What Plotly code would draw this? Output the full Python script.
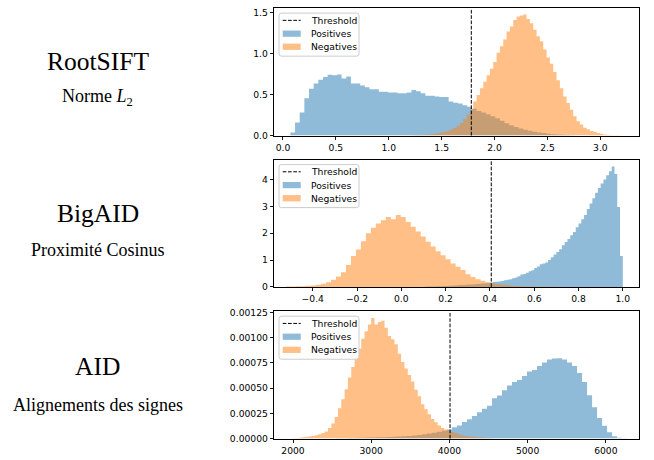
import plotly.graph_objects as go

W, H = 654, 460

# ---------------- data (bin start, bin width, density per bin) ----------------
# Panel 1 : RootSIFT, L2 norm
P1_POS_START, P1_POS_WIDTH = 0.07, 0.044
P1_POS = [0.036, 0.16, 0.28, 0.455, 0.57, 0.635, 0.68, 0.715, 0.74, 0.735, 0.745, 0.695,
          0.72, 0.635, 0.635, 0.61, 0.587, 0.563, 0.563, 0.535, 0.535, 0.523, 0.523, 0.515,
          0.515, 0.523, 0.555, 0.54, 0.515, 0.485, 0.485, 0.475, 0.47, 0.47, 0.415, 0.40,
          0.39, 0.37, 0.35, 0.325, 0.30, 0.28, 0.26, 0.235, 0.21, 0.18, 0.15, 0.125, 0.105,
          0.085, 0.07, 0.058, 0.047, 0.037, 0.03, 0.022, 0.016, 0.012, 0.008, 0.005, 0.003]
P1_NEG_START, P1_NEG_WIDTH = 1.2, 0.0315
P1_NEG = [0.003, 0.004, 0.005, 0.007, 0.009, 0.012, 0.016, 0.021, 0.027, 0.036, 0.046,
          0.058, 0.072, 0.092, 0.118, 0.155, 0.2, 0.255, 0.315, 0.415, 0.495, 0.575, 0.655,
          0.735, 0.815, 0.895, 1.01, 1.09, 1.17, 1.27, 1.33, 1.41, 1.45, 1.465, 1.475, 1.42,
          1.37, 1.29, 1.21, 1.15, 1.05, 0.95, 0.875, 0.775, 0.675, 0.575, 0.475, 0.395,
          0.315, 0.235, 0.175, 0.135, 0.095, 0.075, 0.055, 0.045, 0.03, 0.02, 0.012, 0.008,
          0.005, 0.003, 0.002]

# Panel 2 : BigAID, cosine proximity
P2_POS_START, P2_POS_WIDTH = 0.1, 0.0125
P2_POS = [0.01, 0.012, 0.014, 0.018, 0.02, 0.024, 0.028, 0.032, 0.036, 0.042, 0.048, 0.055,
          0.062, 0.068, 0.074, 0.082, 0.088, 0.095, 0.10, 0.107, 0.115, 0.125, 0.135, 0.15,
          0.165, 0.18, 0.19, 0.205, 0.225, 0.25, 0.27, 0.29, 0.32, 0.355, 0.40, 0.46, 0.48,
          0.53, 0.58, 0.62, 0.70, 0.76, 0.84, 0.87, 0.91, 1.0, 1.1, 1.21, 1.3, 1.4, 1.55,
          1.67, 1.78, 1.92, 2.04, 2.22, 2.36, 2.52, 2.68, 2.9, 3.1, 3.3, 3.5, 3.68, 3.85,
          4.0, 4.15, 4.3, 4.48, 4.2, 2.97, 1.15]
P2_NEG_START, P2_NEG_WIDTH = -0.52, 0.0225
P2_NEG = [0.015, 0.02, 0.025, 0.03, 0.04, 0.055, 0.085, 0.12, 0.17, 0.27, 0.39, 0.55, 0.82,
          1.15, 1.39, 1.70, 2.0, 2.2, 2.36, 2.48, 2.6, 2.52, 2.68, 2.6, 2.42, 2.24, 2.06,
          1.88, 1.68, 1.5, 1.33, 1.18, 1.03, 0.87, 0.75, 0.63, 0.47, 0.37, 0.29, 0.23, 0.17,
          0.13, 0.1, 0.08, 0.06, 0.045, 0.035, 0.027, 0.02, 0.015, 0.011, 0.008, 0.005, 0.003]

# Panel 3 : AID, sign alignments (values in units of 1e-5)
P3_UNIT = 1e-5
P3_POS_START, P3_POS_WIDTH = 2560, 64
P3_POS = [0.3, 0.4, 0.5, 0.6, 0.7, 0.8, 1.0, 1.1, 1.2, 1.4, 1.6, 1.8, 2.0, 2.3, 2.6, 3.0,
          3.5, 4.2, 5.0, 5.8, 6.8, 7.8, 9.0, 11.3, 12.9, 16.5, 19.2, 22.4, 26.2, 29.5, 32.5,
          40, 42.6, 48, 52.5, 56, 58, 62, 66.5, 68, 72, 75.5, 78.5, 79.3, 79.7, 78.5, 75.5,
          72, 65, 56, 43, 31, 20.5, 12.8, 6.3, 2.3, 0.9, 0.3]
P3_NEG_START, P3_NEG_WIDTH = 1980, 42.5
P3_NEG = [0.3, 0.6, 0.9, 1.2, 1.6, 2.1, 2.6, 3.2, 4.2, 5.4, 7.0, 10.5, 15.0, 21.5, 30, 39,
          49, 60.5, 71, 80, 89, 99, 106.5, 113, 119.5, 113, 115.6, 116.9, 109.8, 101.7, 98.4,
          93.6, 84, 76, 69.4, 63, 56.5, 48.4, 42, 34, 29, 24.2, 19.4, 16.1, 13, 10.5, 9.0,
          8.0, 6.5, 5.5, 4.0, 3.0, 2.5, 2.1, 1.8, 1.6, 1.3, 1.0, 0.8, 0.5, 0.3]

THRESHOLDS = [1.78, 0.406, 4008]

TITLES = ["RootSIFT", "BigAID", "AID"]
SUBTITLES = ["Norme <i>L</i><sub>2</sub>", "Proximité Cosinus", "Alignements des signes"]

X_TICKVALS = [[0.0, 0.5, 1.0, 1.5, 2.0, 2.5, 3.0],
              [-0.4, -0.2, 0.0, 0.2, 0.4, 0.6, 0.8, 1.0],
              [2000, 3000, 4000, 5000, 6000]]
X_TICKTEXT = [["0.0", "0.5", "1.0", "1.5", "2.0", "2.5", "3.0"],
              ["\u22120.4", "\u22120.2", "0.0", "0.2", "0.4", "0.6", "0.8", "1.0"],
              ["2000", "3000", "4000", "5000", "6000"]]
Y_TICKVALS = [[0.0, 0.5, 1.0, 1.5],
              [0, 1, 2, 3, 4],
              [0.0, 0.00025, 0.0005, 0.00075, 0.001, 0.00125]]
Y_TICKTEXT = [["0.0", "0.5", "1.0", "1.5"],
              ["0", "1", "2", "3", "4"],
              ["0.00000", "0.00025", "0.00050", "0.00075", "0.00100", "0.00125"]]
X_RANGES = [[-0.085, 3.368], [-0.575, 1.0745], [1757, 6428]]
Y_RANGES = [[0, 1.55], [0, 4.727], [0, 0.00126]]

LEGEND_LABELS = ["Threshold", "Positives", "Negatives"]

# ---------------- styles / layout ----------------
BLUE = "rgba(31,119,180,0.5)"
ORANGE = "rgba(255,127,14,0.5)"
TICK_FONT = dict(family="DejaVu Sans", size=9.2, color="black")
AX_LEFT, AX_RIGHT = 274.0, 639.3
AX_TOPS = [3.5, 158.3, 313.3]
AX_H = 129.9
DASH = "3.7px,1.6px"


def px_x(x):
    return x / W


def px_y(y):
    return 1 - y / H


def step_xy(start, width, heights, scale=1.0):
    xs = [start + width * i for i in range(len(heights) + 1)]
    ys = [h * scale for h in heights] + [heights[-1] * scale]
    return xs, ys


def rrect(x0, y0, x1, y1, r):
    p = lambda x, y: f"{px_x(x):.5f},{px_y(y):.5f}"
    return (f"M{p(x0 + r, y0)} L{p(x1 - r, y0)} Q{p(x1, y0)} {p(x1, y0 + r)} "
            f"L{p(x1, y1 - r)} Q{p(x1, y1)} {p(x1 - r, y1)} L{p(x0 + r, y1)} "
            f"Q{p(x0, y1)} {p(x0, y1 - r)} L{p(x0, y0 + r)} Q{p(x0, y0)} {p(x0 + r, y0)} Z")


fig = go.Figure()

series = [
    ((P1_POS_START, P1_POS_WIDTH, P1_POS, 1.0), (P1_NEG_START, P1_NEG_WIDTH, P1_NEG, 1.0)),
    ((P2_POS_START, P2_POS_WIDTH, P2_POS, 1.0), (P2_NEG_START, P2_NEG_WIDTH, P2_NEG, 1.0)),
    ((P3_POS_START, P3_POS_WIDTH, P3_POS, P3_UNIT), (P3_NEG_START, P3_NEG_WIDTH, P3_NEG, P3_UNIT)),
]

shapes = []
annotations = []
layout_axes = {}

for k in range(3):
    sfx = "" if k == 0 else str(k + 1)
    xa, ya = "x" + sfx, "y" + sfx
    (ps, pw, pv, psc), (ns, nw, nv, nsc) = series[k]
    for (st, wd, vals, sc), col, name in [((ps, pw, pv, psc), BLUE, "Positives"),
                                           ((ns, nw, nv, nsc), ORANGE, "Negatives")]:
        xs, ys = step_xy(st, wd, vals, sc)
        fig.add_trace(go.Scatter(x=xs, y=ys, mode="lines", line=dict(width=0, shape="hv"),
                                 fill="tozeroy", fillcolor=col, name=name,
                                 showlegend=False, xaxis=xa, yaxis=ya, hoverinfo="skip"))
    top = AX_TOPS[k]
    bot = top + AX_H
    common = dict(showgrid=False, zeroline=False, showline=True, mirror=True,
                  linecolor="black", linewidth=1, ticks="outside", ticklen=3.3,
                  tickwidth=0.9, tickcolor="black", tickfont=TICK_FONT)
    layout_axes["xaxis" + sfx] = dict(common, domain=[px_x(AX_LEFT), px_x(AX_RIGHT)],
                                      range=X_RANGES[k], tickvals=X_TICKVALS[k],
                                      ticktext=X_TICKTEXT[k], anchor=ya)
    layout_axes["yaxis" + sfx] = dict(common, domain=[px_y(bot), px_y(top)],
                                      range=Y_RANGES[k], tickvals=Y_TICKVALS[k],
                                      ticktext=Y_TICKTEXT[k], anchor=xa)
    # threshold
    shapes.append(dict(type="line", xref=xa, yref=ya + " domain", x0=THRESHOLDS[k],
                       x1=THRESHOLDS[k], y0=0, y1=1,
                       line=dict(color="black", width=1, dash=DASH), layer="above"))
    # legend
    bx0, by0 = AX_LEFT + 5, top + 4.8
    bx1, by1 = AX_LEFT + 85, top + 48.8
    shapes.append(dict(type="path", xref="paper", yref="paper", path=rrect(bx0, by0, bx1, by1, 2.5),
                       fillcolor="rgba(255,255,255,0.8)", line=dict(color="#cccccc", width=1),
                       layer="above"))
    ey = [top + 12.2, top + 25.8, top + 39.2]
    hx0, hx1 = AX_LEFT + 8.7, AX_LEFT + 26.7
    shapes.append(dict(type="line", xref="paper", yref="paper", x0=px_x(hx0), x1=px_x(hx1),
                       y0=px_y(ey[0]), y1=px_y(ey[0]),
                       line=dict(color="black", width=1, dash=DASH), layer="above"))
    for j, col in [(1, BLUE), (2, ORANGE)]:
        shapes.append(dict(type="rect", xref="paper", yref="paper", x0=px_x(hx0), x1=px_x(hx1),
                           y0=px_y(ey[j] + 3.2), y1=px_y(ey[j] - 3.2), fillcolor=col,
                           line=dict(width=0), layer="above"))
    for j in range(3):
        annotations.append(dict(text=LEGEND_LABELS[j], xref="paper", yref="paper",
                                x=px_x(AX_LEFT + 35), y=px_y(ey[j]), xanchor="left",
                                yanchor="middle", showarrow=False,
                                font=dict(family="DejaVu Sans", size=9.2, color="black")))

TITLE_Y = [57.5, 213, 369.5]
SUB_Y = [95, 250, 409]
for k in range(3):
    annotations.append(dict(text=TITLES[k], xref="paper", yref="paper", x=px_x(97.5),
                            y=px_y(TITLE_Y[k]), xanchor="center", yanchor="middle",
                            showarrow=False,
                            font=dict(family="Liberation Serif", size=25.5, color="black")))
    annotations.append(dict(text=SUBTITLES[k], xref="paper", yref="paper", x=px_x(97.5),
                            y=px_y(SUB_Y[k]), xanchor="center", yanchor="middle",
                            showarrow=False,
                            font=dict(family="Liberation Serif", size=18, color="black")))

fig.update_layout(width=W, height=H, margin=dict(l=0, r=0, t=0, b=0),
                  paper_bgcolor="white", plot_bgcolor="white", showlegend=False,
                  hovermode=False, dragmode=False,
                  shapes=shapes, annotations=annotations, **layout_axes)

fig.write_html("out.html", config={"displayModeBar": False, "staticPlot": True},
               post_script="document.body.style.margin='0px';document.body.style.padding='0px';document.body.style.overflow='hidden';")
